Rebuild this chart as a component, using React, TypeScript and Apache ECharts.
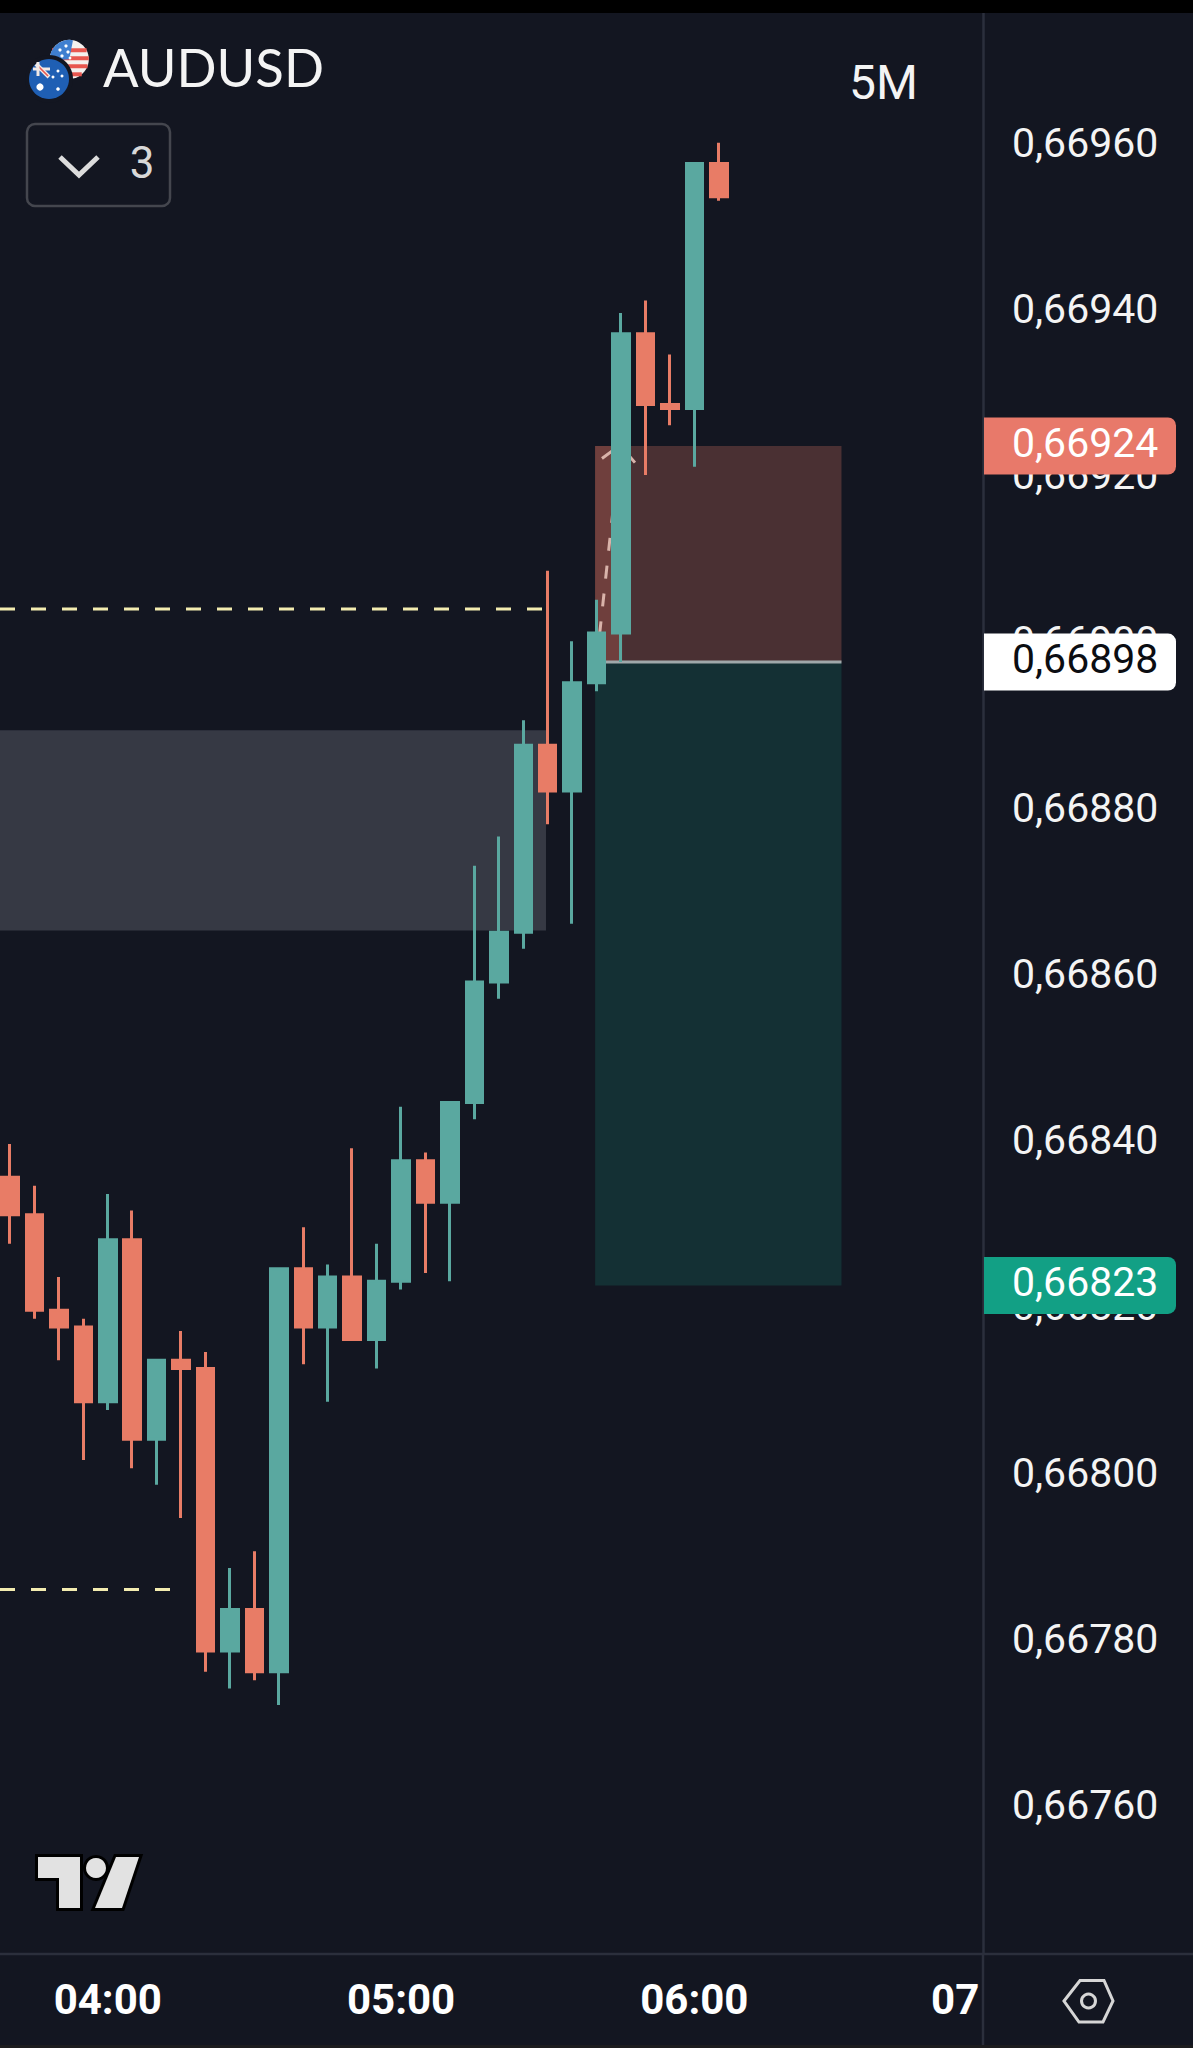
import React, { useEffect, useRef } from "react";
import * as echarts from "echarts";

// ---------- data ----------
const candleIndex = [0,1,2,3,4,5,6,7,8,9,10,11,12,13,14,15,16,17,18,19,20,21,22,23,24,25,26,27,28,29];
const opens  = [0.66836,0.668315,0.6682,0.66818,0.66809,0.668285,0.668045,0.66814,0.66813,0.66779,0.66784,0.667765,0.66825,0.66818,0.66824,0.668165,0.668235,0.66838,0.66833,0.66845,0.668595,0.668655,0.66888,0.668825,0.668955,0.669015,0.669375,0.66929,0.669285,0.66958];
const closes = [0.668315,0.6682,0.66818,0.66809,0.668285,0.668045,0.66814,0.66813,0.66779,0.66784,0.667765,0.66825,0.66818,0.66824,0.668165,0.668235,0.66838,0.66833,0.66845,0.668595,0.668655,0.66888,0.668825,0.668955,0.669015,0.669375,0.66929,0.669285,0.66958,0.66954];
const lows   = [0.66828,0.66819,0.66814,0.66802,0.66808,0.66801,0.66799,0.66795,0.667765,0.667745,0.667755,0.667725,0.668135,0.66809,0.668165,0.66813,0.668225,0.668245,0.668235,0.66843,0.668575,0.668635,0.668785,0.668665,0.668945,0.66898,0.669205,0.669265,0.669215,0.669535];
const highs  = [0.6684,0.66835,0.66824,0.66819,0.66834,0.66832,0.66814,0.668175,0.66815,0.66789,0.66791,0.66825,0.6683,0.668255,0.668395,0.66828,0.668445,0.66839,0.66845,0.668735,0.66877,0.66891,0.66909,0.669005,0.669055,0.6694,0.669415,0.66935,0.66958,0.669605];

const priceTicks = [0.6676,0.6678,0.668,0.6682,0.6684,0.6686,0.6688,0.669,0.6692,0.6694,0.6696];
const timeTickAt = [4,16,28,38.67];
const timeTickLabels = ["04:00","05:00","06:00","07"];

const takeProfit = 0.66823;
const entryPrice = 0.66898;
const stopLoss = 0.66924;
const zoneTop = 0.668898;
const zoneBottom = 0.668657;
const upperLevel = 0.669044;
const lowerLevel = 0.667864;

const tagPrices = [stopLoss, entryPrice, takeProfit];
const tagFills = ["#e8796a", "#ffffff", "#12a085"];
const tagInks = ["#ffffff", "#0b0d12", "#ffffff"];

const xMin = -0.409;
const xMax = 39.81;
const yMin = 0.6674255;
const yMax = 0.669761;
const boxLeft = 23.94;
const boxRight = 34.02;
const stripRight = 25.05;
const zoneRight = 21.93;
const upperLevelEnd = 21.9;
const lowerLevelEnd = 6.55;
const arrowPath = [[24,0.66898],[24.96,0.669241]];
const arrowHead = [[24.22,0.669225],[24.96,0.669241],[25.57,0.66922]];

// ---------- styles ----------
const BG = "#131621";
const UP = "#5aa8a0";
const DOWN = "#e87c66";
const GRID_LINE = "#2b2f3c";
const FONT = "Roboto";

const priceText = (v: number) => v.toFixed(5).replace(".", ",");

const chords = (cx: number, cy: number, r: number, dys: number[], color: string, w: number) =>
  dys.map((dy) => {
    const h = Math.sqrt(Math.max(r * r - dy * dy, 0));
    return { type: "line", z: 50, shape: { x1: cx - h, y1: cy + dy, x2: cx + h, y2: cy + dy }, style: { stroke: color, lineWidth: w } };
  });

const dots = (pts: number[][], color: string) =>
  pts.map(([x, y, r]) => ({ type: "circle", z: 50, shape: { cx: x, cy: y, r }, style: { fill: color } }));

const logoFill = "#e2e2e2";
const logoT = [[38,1857],[80,1857],[80,1908],[59,1908],[59,1878],[38,1878]];
const logoSlash = [[116,1857],[139,1857],[122,1908],[95,1908]];

const overlay: any[] = [
  { type: "rect", z: 40, shape: { x: 0, y: 0, width: 1193, height: 13 }, style: { fill: "#000" } },
  { type: "rect", z: 40, shape: { x: 0, y: 2045, width: 1193, height: 3 }, style: { fill: "#1c1c1e" } },
  { type: "line", z: 40, shape: { x1: 0, y1: 1954, x2: 1193, y2: 1954 }, style: { stroke: GRID_LINE, lineWidth: 2.5 } },
  { type: "line", z: 40, shape: { x1: 983, y1: 1954, x2: 983, y2: 2045 }, style: { stroke: GRID_LINE, lineWidth: 2.5 } },

  // flags
  { type: "circle", z: 50, shape: { cx: 69.3, cy: 59.3, r: 19.5 }, style: { fill: "#f4f1ee" } },
  ...chords(69.3, 59.3, 19.5, [-9, -1, 7, 15], "#e8574f", 4),
  { type: "sector", z: 50, shape: { cx: 69.3, cy: 59.3, r: 19.5, r0: 0, startAngle: Math.PI * 0.98, endAngle: Math.PI * 1.56, clockwise: true }, style: { fill: "#3f7fd0" } },
  ...dots([[60,50,1.6],[66,46,1.6],[68,52,1.6],[62,56,1.6],[70,58,1.4]], "#fff"),
  { type: "circle", z: 50, shape: { cx: 49, cy: 79, r: 24 }, style: { fill: BG } },
  { type: "circle", z: 50, shape: { cx: 49, cy: 79, r: 20 }, style: { fill: "#1f5fb4" } },
  { type: "line", z: 50, shape: { x1: 33, y1: 69, x2: 50, y2: 69 }, style: { stroke: "#f1e9e6", lineWidth: 3 } },
  { type: "line", z: 50, shape: { x1: 36, y1: 64, x2: 49, y2: 77 }, style: { stroke: "#f1e9e6", lineWidth: 4 } },
  { type: "line", z: 50, shape: { x1: 38, y1: 66, x2: 48, y2: 76 }, style: { stroke: "#e8574f", lineWidth: 1.6 } },
  { type: "line", z: 50, shape: { x1: 38, y1: 62, x2: 38, y2: 76 }, style: { stroke: "#f1e9e6", lineWidth: 3 } },
  ...dots([[40,87,3.6],[53,77,1.5],[58,71,1.5],[62,76,1.5],[58,89,1.8]], "#fff"),

  // symbol title and interval
  { type: "text", z: 50, style: { x: 103, y: 66, text: "AUDUSD", fill: "#f4f4f4", font: "400 52.7px Lato", textVerticalAlign: "middle" } },
  { type: "text", z: 50, style: { x: 883.5, y: 82.5, text: "5M", fill: "#f4f4f4", font: "400 48px Roboto", textAlign: "center", textVerticalAlign: "middle" } },

  // collapsed-indicators button
  { type: "rect", z: 50, shape: { x: 27, y: 124, width: 143, height: 82, r: 8 }, style: { fill: "transparent", stroke: "#44464e", lineWidth: 2.5 } },
  { type: "polyline", z: 50, shape: { points: [[60,157],[79,175],[98,157]] }, style: { fill: "none", stroke: "#dcdcdc", lineWidth: 5 } },
  { type: "text", z: 50, style: { x: 142, y: 163, text: "3", fill: "#d8d8d8", font: "400 44px Roboto", textAlign: "center", textVerticalAlign: "middle" } },

  // logo
  { type: "polygon", z: 50, shape: { points: logoT }, style: { fill: "#000", stroke: "#000", lineWidth: 6 } },
  { type: "polygon", z: 50, shape: { points: logoSlash }, style: { fill: "#000", stroke: "#000", lineWidth: 6 } },
  { type: "circle", z: 50, shape: { cx: 96, cy: 1868, r: 13 }, style: { fill: "#000" } },
  { type: "polygon", z: 51, shape: { points: logoT }, style: { fill: logoFill } },
  { type: "polygon", z: 51, shape: { points: logoSlash }, style: { fill: logoFill } },
  { type: "circle", z: 51, shape: { cx: 96, cy: 1868, r: 10 }, style: { fill: logoFill } },

  // settings icon
  { type: "polygon", z: 50, shape: { points: [[1064,2001],[1080,1980.5],[1104,1980.5],[1113,2001],[1103,2022],[1079,2022]] }, style: { fill: "none", stroke: "#d6d6d6", lineWidth: 3 } },
  { type: "circle", z: 50, shape: { cx: 1088.5, cy: 2001, r: 7 }, style: { fill: "none", stroke: "#d6d6d6", lineWidth: 3 } },
];

const renderTag = (params: any, api: any) => {
  const i = params.dataIndex;
  const [x, y] = api.coord([api.value(0), api.value(1)]);
  return {
    type: "group",
    children: [
      { type: "rect", shape: { x: x + 1, y: y - 28.5, width: 192, height: 57, r: [0, 8, 8, 0] }, style: { fill: tagFills[i] } },
      {
        type: "text",
        style: {
          x: x + 29,
          y: y - 3,
          text: priceText(tagPrices[i]),
          fill: tagInks[i],
          font: `400 41px ${FONT}`,
          textVerticalAlign: "middle",
        },
      },
    ],
  };
};

const App = () => {
  const ref = useRef<HTMLDivElement>(null);
  useEffect(() => {
    const chart = echarts.init(ref.current!, null, { renderer: "svg" });
    chart.setOption({
      animation: false,
      backgroundColor: BG,
      grid: { left: 0, right: 210, top: 13, bottom: 94, containLabel: false },
      xAxis: {
        type: "value",
        min: xMin,
        max: xMax,
        splitLine: { show: false },
        axisTick: { show: false },
        axisLine: { show: false, onZero: false },
        axisLabel: {
          customValues: timeTickAt,
          margin: 24,
          color: "#ffffff",
          fontFamily: FONT,
          fontWeight: 700,
          fontSize: 42,
          formatter: (v: number) => timeTickLabels[timeTickAt.indexOf(v)] ?? "",
        },
      },
      yAxis: {
        type: "value",
        position: "right",
        min: yMin,
        max: yMax,
        splitLine: { show: false },
        axisTick: { show: false },
        axisLine: { show: true, onZero: false, lineStyle: { color: GRID_LINE, width: 2.5 } },
        axisLabel: {
          customValues: priceTicks,
          margin: 29,
          color: "#f4f4f4",
          fontFamily: FONT,
          fontWeight: 400,
          fontSize: 41,
          verticalAlign: "bottom",
          lineHeight: 8,
          formatter: (v: number) => priceText(v),
        },
      },
      graphic: { elements: overlay },
      series: [
        {
          type: "line",
          name: "zones",
          z: 1,
          data: [],
          silent: true,
          markArea: {
            silent: true,
            data: [
              [{ coord: [xMin, zoneTop], itemStyle: { color: "#363944", opacity: 1 } }, { coord: [zoneRight, zoneBottom] }],
              [{ coord: [boxLeft, stopLoss], itemStyle: { color: "#4a3033", opacity: 1 } }, { coord: [boxRight, entryPrice] }],
              [{ coord: [boxLeft, stopLoss], itemStyle: { color: "#6f3f3d", opacity: 1 } }, { coord: [stripRight, entryPrice] }],
              [{ coord: [boxLeft, entryPrice], itemStyle: { color: "#143034", opacity: 1 } }, { coord: [boxRight, takeProfit] }],
            ],
          },
        },
        {
          type: "line", z: 2, showSymbol: false, silent: true,
          data: [[xMin, upperLevel], [upperLevelEnd, upperLevel]],
          lineStyle: { color: "#f3ecb0", width: 3, type: [15, 16] },
        },
        {
          type: "line", z: 2, showSymbol: false, silent: true,
          data: [[xMin, lowerLevel], [lowerLevelEnd, lowerLevel]],
          lineStyle: { color: "#f3ecb0", width: 3, type: [15, 16] },
        },
        {
          type: "line", z: 2, showSymbol: false, silent: true,
          data: [[boxLeft, entryPrice], [boxRight, entryPrice]],
          lineStyle: { color: "#9fa8aa", width: 3 },
        },
        {
          type: "line", z: 2, showSymbol: false, silent: true,
          data: arrowPath,
          lineStyle: { color: "#d9b3aa", width: 3, type: [13, 15] },
        },
        {
          type: "line", z: 2, showSymbol: false, silent: true,
          data: arrowHead,
          lineStyle: { color: "#d9b3aa", width: 3 },
        },
        {
          type: "candlestick",
          z: 5,
          barWidth: 17,
          silent: true,
          itemStyle: { color: UP, color0: DOWN, borderColor: UP, borderColor0: DOWN, borderWidth: 3 },
          data: candleIndex.map((x, i) => [x, opens[i], closes[i], lows[i], highs[i]]),
        },
        {
          type: "custom",
          z: 20,
          silent: true,
          clip: false,
          renderItem: renderTag,
          encode: { x: 0, y: 1 },
          data: tagPrices.map((p) => [xMax, p]),
        },
      ],
    });
    return () => chart.dispose();
  }, []);
  return <div ref={ref} style={{ position: "absolute", left: 0, top: 0, width: 1193, height: 2048 }} />;
};

export default App;
